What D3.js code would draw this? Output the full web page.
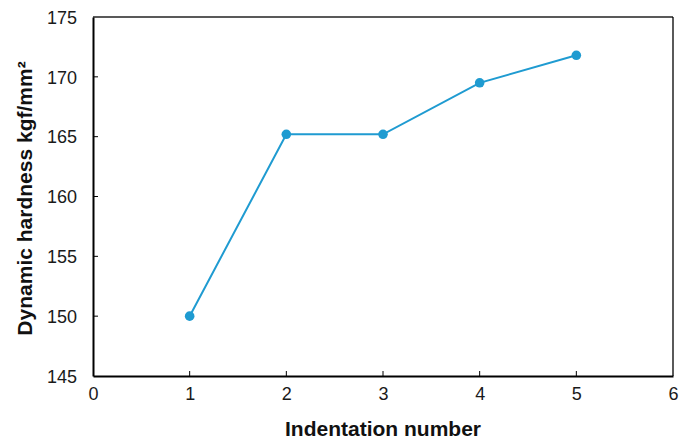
<!DOCTYPE html>
<html>
<head>
<meta charset="utf-8">
<script src="https://cdn.jsdelivr.net/npm/d3@7"></script>
<style>
  html, body { margin: 0; padding: 0; background: #fff; }
  svg { display: block; }
</style>
</head>
<body>
<svg id="chart" width="692" height="440"></svg>
<script>
const indentation = [1, 2, 3, 4, 5];
const hardness = [150, 165.2, 165.2, 169.5, 171.8];
const xTicks = [0, 1, 2, 3, 4, 5, 6];
const yTicks = [145, 150, 155, 160, 165, 170, 175];
const xTitle = "Indentation number";
const yTitle = "Dynamic hardness kgf/mm²";

const W = 692, H = 440;
const m = { left: 93, right: 692 - 673, top: 17, bottom: 440 - 376 };
const svg = d3.select("#chart");
const x = d3.scaleLinear().domain([0, 6]).range([m.left, W - m.right]);
const y = d3.scaleLinear().domain([145, 175]).range([H - m.bottom, m.top]);
const font = "Liberation Sans, Arial, sans-serif";

// frame top/right
svg.append("line").attr("x1", x(0)).attr("x2", x(6)).attr("y1", y(175)).attr("y2", y(175))
  .attr("stroke", "#595959").attr("stroke-width", 2);
svg.append("line").attr("x1", x(6)).attr("x2", x(6)).attr("y1", y(175)).attr("y2", y(145))
  .attr("stroke", "#000").attr("stroke-width", 1.3);

// axes
const xAxis = svg.append("g").attr("transform", `translate(0,${y(145)})`)
  .call(d3.axisBottom(x).tickValues(xTicks).tickSize(0).tickPadding(24).tickFormat(d3.format("d")));
const yAxis = svg.append("g").attr("transform", `translate(${x(0)},0)`)
  .call(d3.axisLeft(y).tickValues(yTicks).tickSize(0).tickPadding(16).tickFormat(d3.format("d")));
[xAxis, yAxis].forEach(g => {
  g.select(".domain").attr("stroke", "#000").attr("stroke-width", 2);
  g.selectAll("text").attr("font-family", font).attr("font-size", 18).attr("fill", "#1a1a1a");
});
xAxis.selectAll("text").attr("dy", "0");
yAxis.selectAll("text").attr("dy", "0.35em");

// inward ticks
svg.append("g").selectAll("line").data(xTicks.slice(1, -1)).join("line")
  .attr("x1", d => x(d)).attr("x2", d => x(d)).attr("y1", y(145)).attr("y2", y(145) - 5)
  .attr("stroke", "#000").attr("stroke-width", 1);
svg.append("g").selectAll("line").data(yTicks.slice(1, -1)).join("line")
  .attr("x1", x(0)).attr("x2", x(0) + 5).attr("y1", d => y(d)).attr("y2", d => y(d))
  .attr("stroke", "#000").attr("stroke-width", 1);

// series
const pts = indentation.map((d, i) => [d, hardness[i]]);
const color = "#1f9bd1";
svg.append("path").datum(pts)
  .attr("d", d3.line().x(d => x(d[0])).y(d => y(d[1])))
  .attr("fill", "none").attr("stroke", color).attr("stroke-width", 2);
svg.append("g").selectAll("circle").data(pts).join("circle")
  .attr("cx", d => x(d[0])).attr("cy", d => y(d[1])).attr("r", 4.8).attr("fill", color);

// titles
svg.append("text").attr("x", (x(0) + x(6)) / 2).attr("y", 436).attr("text-anchor", "middle")
  .attr("font-family", font).attr("font-size", 21).attr("font-weight", "bold").attr("fill", "#111")
  .text(xTitle);
svg.append("text").attr("transform", `translate(32,${(y(145) + y(175)) / 2 + 2}) rotate(-90)`)
  .attr("text-anchor", "middle")
  .attr("font-family", font).attr("font-size", 21).attr("font-weight", "bold").attr("fill", "#111")
  .text(yTitle);
</script>
</body>
</html>
